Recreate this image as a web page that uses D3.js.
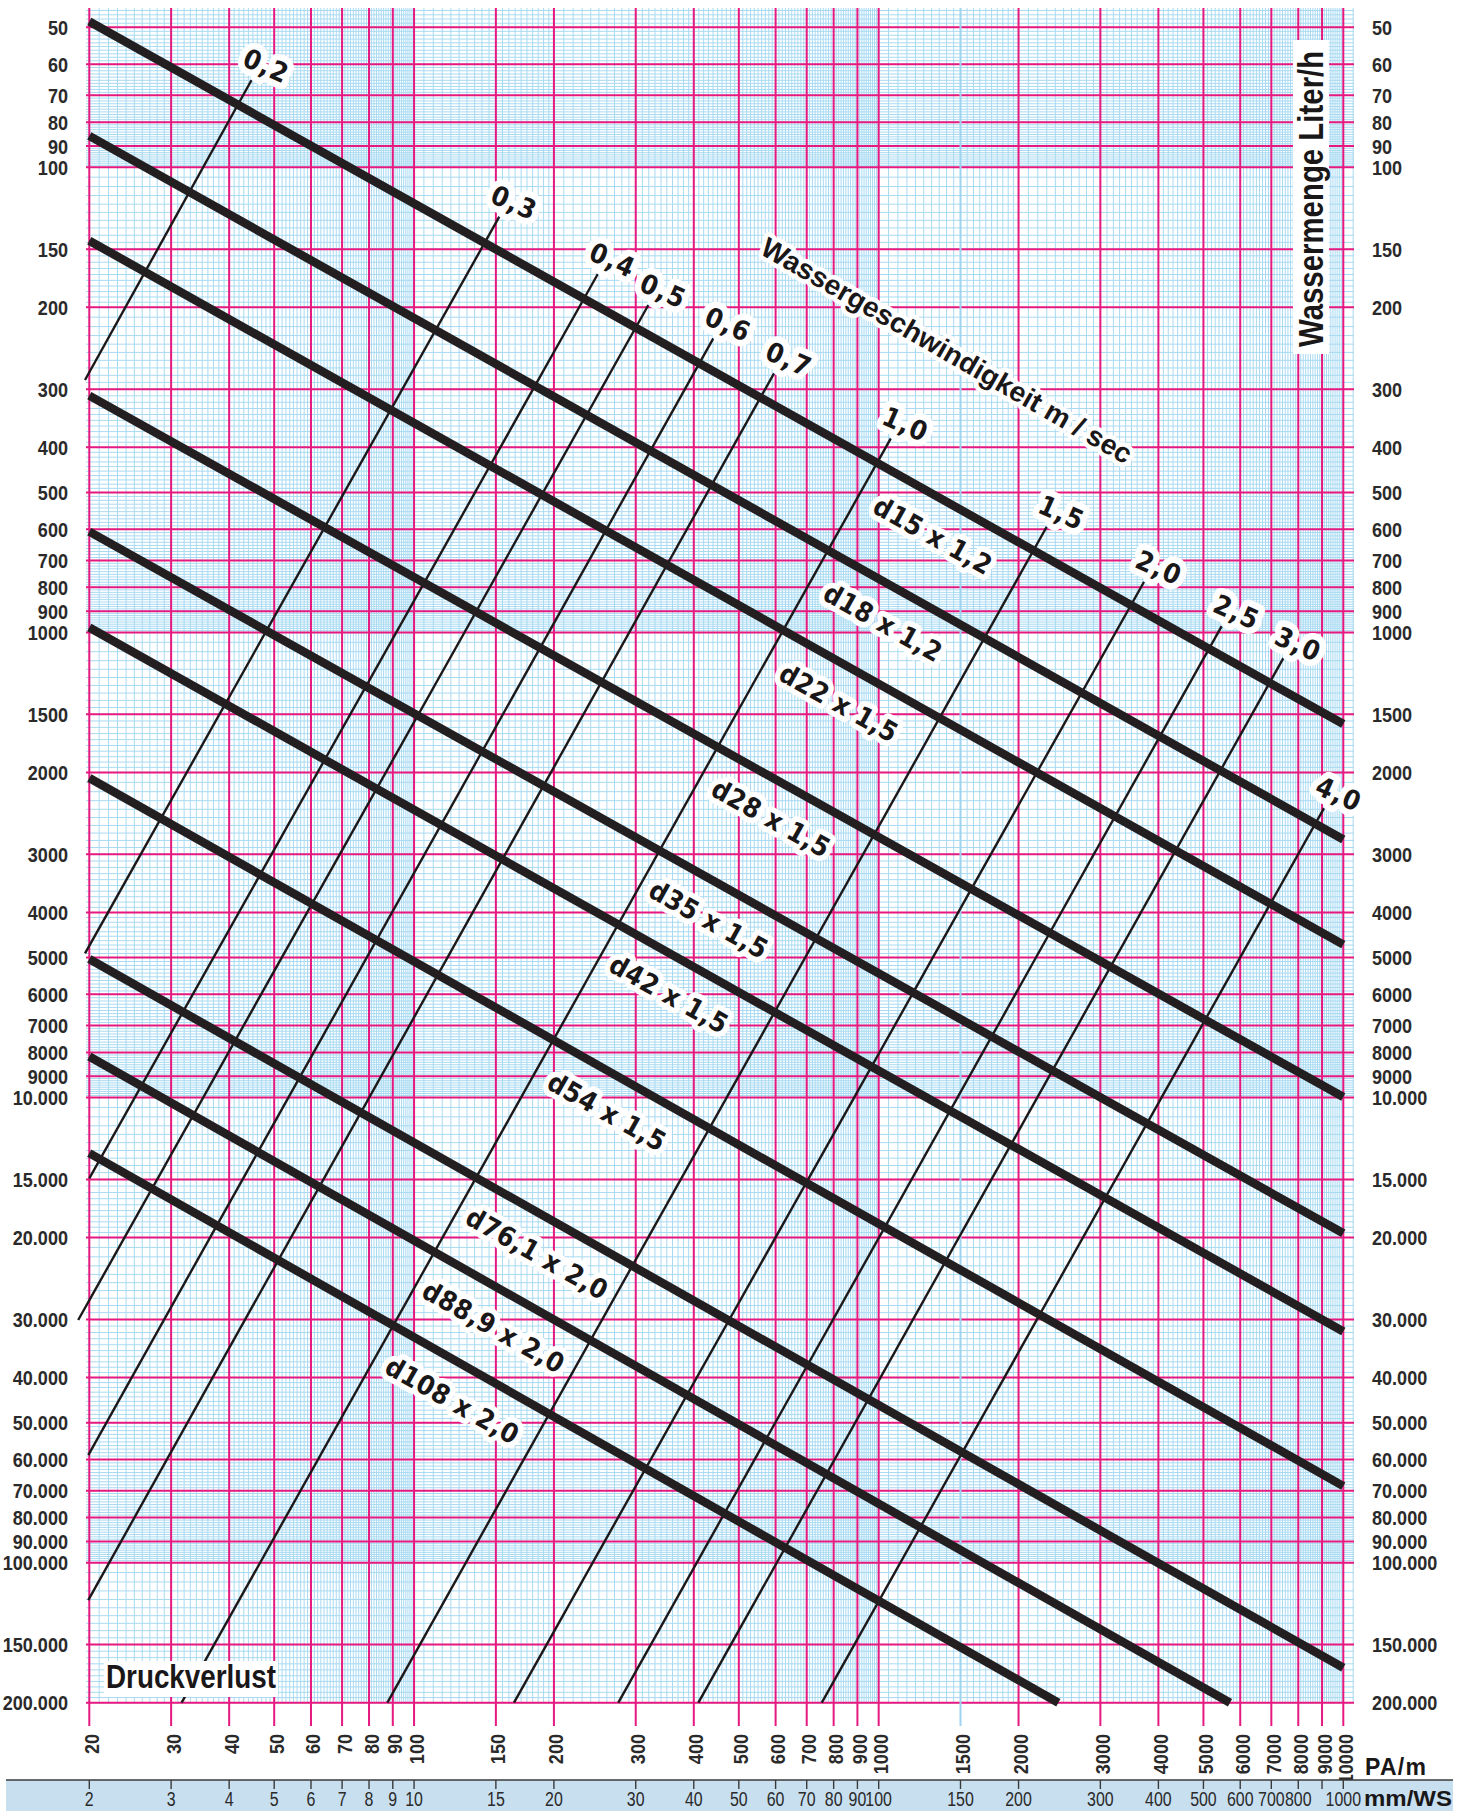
<!DOCTYPE html>
<html>
<head>
<meta charset="utf-8">
<script src="https://cdn.jsdelivr.net/npm/d3@7"></script>
<style>
  body { margin: 0; background: #fff; }
  svg { display: block; }
</style>
</head>
<body>
<svg id="chart" width="1463" height="1811"></svg>
<script>
// ---- Pressure-loss ticks (PA/m), flow ticks (Liter/h), mm/WS ticks ----
const R_TICKS = [20, 30, 40, 50, 60, 70, 80, 90, 100, 150, 200, 300, 400, 500, 600, 700, 800, 900,
                 1000, 1500, 2000, 3000, 4000, 5000, 6000, 7000, 8000, 9000, 10000];
const Q_TICKS = [50, 60, 70, 80, 90, 100, 150, 200, 300, 400, 500, 600, 700, 800, 900, 1000, 1500,
                 2000, 3000, 4000, 5000, 6000, 7000, 8000, 9000, 10000, 15000, 20000, 30000, 40000,
                 50000, 60000, 70000, 80000, 90000, 100000, 150000, 200000];
const MMWS_TICKS = [2, 3, 4, 5, 6, 7, 8, 9, 10, 15, 20, 30, 40, 50, 60, 70, 80, 90, 100, 150, 200,
                    300, 400, 500, 600, 700, 800, 900, 1000];
const MMWS_LABELS = [2, 3, 4, 5, 6, 7, 8, 9, 10, 15, 20, 30, 40, 50, 60, 70, 80, 90, 100, 150, 200,
                     300, 400, 500, 600, 700, 800, 1000];

// ---- Copper pipes: flow at the start / end of each friction line ----
const pipeNames  = ["d15 x 1,2", "d18 x 1,2", "d22 x 1,5", "d28 x 1,5", "d35 x 1,5",
                    "d42 x 1,5", "d54 x 1,5", "d76,1 x 2,0", "d88,9 x 2,0", "d108 x 2,0"];
const pipeStartR = [20, 20, 20, 20, 20, 20, 20, 20, 20, 20];
const pipeStartQ = [48.6, 85.6, 143.8, 309.6, 607, 976, 2056, 5037, 8163, 13163];
const pipeEndR   = [10000, 10000, 10000, 10000, 10000, 10000, 10000, 10000, 5704, 2436];
const pipeEndQ   = [1574, 2787, 4690, 9976, 19580, 31830, 68450, 168200, 200000, 200000];

// ---- Water velocity lines (m/sec): upper and lower end points ----
const velocityNames = ["0,2", "0,3", "0,4", "0,5", "0,6", "0,7", "1,0", "1,5", "2,0", "2,5", "3,0", "4,0"];
const velTopR = [44.7, 152.6, 248.6, 319.4, 440.6, 595.4, 1062, 2300, 3726, 5474, 7430, 9090];
const velTopQ = [64.9, 127.7, 169.6, 197.7, 233.3, 277.3, 382.5, 592.6, 778, 969, 1136, 2386];
const velLowR = [19.58, 19.58, 20, 18.93, 19.9, 19.9, 31.6, 87.6, 164.1, 275.2, 409.2, 754.3];
const velLowQ = [286.6, 4897, 14921, 30080, 58700, 120350, 200000, 200000, 200000, 200000, 200000, 200000];

// ---- layout ----
const MAGENTA = "#e5197f";
const BLUE = "#a8daf2";
const INK = "#231f20";
const GRID = { left: 86, right: 1354, top: 8, bottom: 1702.7, tickBottom: 1726 };
// where along each pipe line its name sits (PA/m)
const pipeLabelR = [1428, 1115, 896, 640, 470, 386, 284, 201, 162, 132];
const PIPE_LABEL_OFFSET = 36;
const LABEL_FONT = "'DejaVu Sans', 'Liberation Sans', sans-serif";
const AXIS_FONT = "'Liberation Sans Narrow', 'Liberation Sans', sans-serif";

const svg = d3.select("#chart");
const x = d3.scaleLog().domain([20, 10000]).range([89.3, 1343.3]);
const y = d3.scaleLog().domain([50, 200000]).range([27.3, 1702.7]);

// subdivisions of log paper: 1-2 by 0.05, 2-10 by 0.1
function fineTicks(lo, hi) {
  const out = [];
  for (let e = Math.floor(Math.log10(lo)); e <= Math.ceil(Math.log10(hi)); e++) {
    const b = Math.pow(10, e);
    let m = 1;
    while (m < 10 - 1e-9) {
      out.push(+(m * b).toPrecision(6));
      m = +(m + (m < 2 - 1e-9 ? 0.05 : 0.1)).toFixed(2);
    }
  }
  return out.filter(v => v >= lo && v <= hi);
}

// ---- fine blue grid ----
const gFine = svg.append("g").attr("stroke", BLUE).attr("stroke-width", 1);
const fineR = fineTicks(15, 12000).filter(v => x(v) >= GRID.left - 0.5 && x(v) <= GRID.right + 0.5);
gFine.selectAll("line.v").data(fineR).join("line").attr("class", "v")
  .attr("x1", d => x(d)).attr("x2", d => x(d))
  .attr("y1", GRID.top).attr("y2", GRID.bottom);
const fineQ = fineTicks(40, 200000).filter(v => y(v) >= GRID.top - 0.5 && y(v) <= GRID.bottom + 0.5);
gFine.selectAll("line.h").data(fineQ).join("line").attr("class", "h")
  .attr("y1", d => y(d)).attr("y2", d => y(d))
  .attr("x1", GRID.left).attr("x2", GRID.right);

// ---- major magenta grid ----
const gMaj = svg.append("g").attr("stroke-width", 2);
gMaj.selectAll("line.h").data(Q_TICKS).join("line").attr("class", "h")
  .attr("stroke", MAGENTA)
  .attr("y1", d => y(d)).attr("y2", d => y(d))
  .attr("x1", GRID.left).attr("x2", GRID.right);
gMaj.selectAll("line.v").data(R_TICKS).join("line").attr("class", "v")
  .attr("stroke", d => d === 1500 ? "#9dd3ef" : MAGENTA)
  .attr("x1", d => x(d)).attr("x2", d => x(d))
  .attr("y1", GRID.top).attr("y2", GRID.tickBottom);

const line = d3.line().x(d => x(d[0])).y(d => y(d[1]));

// ---- velocity lines ----
const velocities = velocityNames.map((name, i) => ({
  name, top: [velTopR[i], velTopQ[i]], low: [velLowR[i], velLowQ[i]]
}));
svg.append("g").selectAll("path").data(velocities).join("path")
  .attr("d", d => line([d.low, d.top]))
  .attr("fill", "none").attr("stroke", "#1c1819").attr("stroke-width", 2.4);

// ---- pipe friction lines ----
const pipes = pipeNames.map((name, i) => ({
  name, start: [pipeStartR[i], pipeStartQ[i]], end: [pipeEndR[i], pipeEndQ[i]], labelR: pipeLabelR[i]
}));
svg.append("g").selectAll("path").data(pipes).join("path")
  .attr("d", d => line([d.start, d.end]))
  .attr("fill", "none").attr("stroke", INK).attr("stroke-width", 8.5).attr("stroke-linecap", "butt");

// ---- labels with white knock-out ----
function haloText(g, txt, opts) {
  const t = g.append("text").text(txt)
    .attr("text-anchor", opts.anchor || "middle")
    .attr("dominant-baseline", opts.baseline || "central")
    .attr("font-family", opts.family || LABEL_FONT)
    .attr("font-stretch", opts.stretch || "condensed")
    .attr("font-weight", "bold")
    .attr("font-size", opts.size)
    .attr("letter-spacing", opts.spacing || 0)
    .attr("fill", "#1a1718")
    .attr("stroke", "#fff").attr("stroke-width", opts.halo || 10)
    .attr("stroke-linejoin", "round").attr("paint-order", "stroke");
  if (opts.length) t.attr("textLength", opts.length).attr("lengthAdjust", "spacingAndGlyphs");
  return t;
}

const gLab = svg.append("g");
// pipe names, parallel to and just below each line
pipes.forEach(p => {
  const x0 = x(p.start[0]), y0 = y(p.start[1]), x1 = x(p.end[0]), y1 = y(p.end[1]);
  const ang = Math.atan2(y1 - y0, x1 - x0);
  const t = (Math.log(p.labelR) - Math.log(p.start[0])) / (Math.log(p.end[0]) - Math.log(p.start[0]));
  const px = x0 + (x1 - x0) * t - Math.sin(ang) * PIPE_LABEL_OFFSET;
  const py = y0 + (y1 - y0) * t + Math.cos(ang) * PIPE_LABEL_OFFSET;
  const g = gLab.append("g").attr("transform", `translate(${px},${py}) rotate(${ang * 180 / Math.PI})`);
  haloText(g, p.name, { size: 27, spacing: 0.5, halo: 11 });
});

// velocity values at the upper end of each velocity line
velocities.forEach(v => {
  const px = x(v.top[0]) + 15, py = y(v.top[1]) - 14;
  const g = gLab.append("g").attr("transform", `translate(${px},${py}) rotate(24)`);
  haloText(g, v.name, { size: 27, spacing: 1.5, halo: 13 });
});

// velocity caption
{
  const g = gLab.append("g").attr("transform", "translate(946.7,350.7) rotate(30)");
  haloText(g, "Wassergeschwindigkeit m / sec",
    { size: 28, length: 423, halo: 9, family: "'Liberation Sans', Arial, sans-serif", stretch: "normal" });
}

// flow caption (vertical, right)
svg.append("rect").attr("x", 1293).attr("y", 40).attr("width", 36).attr("height", 314).attr("fill", "#fff");
svg.append("text").text("Wassermenge Liter/h")
  .attr("transform", "translate(1323,347) rotate(-90) scale(0.84,1)")
  .attr("text-anchor", "start")
  .attr("font-family", AXIS_FONT)
  .attr("font-weight", "bold").attr("font-size", 35)
  .attr("fill", "#1a1718");

// pressure caption (bottom left)
svg.append("rect").attr("x", 104).attr("y", 1661).attr("width", 174).attr("height", 36).attr("fill", "#fff");
svg.append("text").text("Druckverlust")
  .attr("x", 106).attr("y", 1688)
  .attr("font-family", AXIS_FONT)
  .attr("font-weight", "bold").attr("font-size", 33)
  .attr("textLength", 170).attr("lengthAdjust", "spacingAndGlyphs")
  .attr("fill", "#1a1718");

// ---- axis labels ----
const de = d3.formatLocale({ decimal: ",", thousands: ".", grouping: [3], currency: ["", "€"] }).format(",");
const fmtQ = v => v >= 10000 ? de(v) : String(v);

svg.append("g").selectAll("text").data(Q_TICKS).join("text")
  .attr("transform", d => `translate(68,${y(d)}) scale(0.86,1)`)
  .attr("dy", "0.36em")
  .attr("text-anchor", "end")
  .attr("font-family", AXIS_FONT).attr("font-weight", "bold").attr("font-size", 21)
  .attr("fill", "#2b2a2a").text(fmtQ);

svg.append("g").selectAll("text").data(Q_TICKS).join("text")
  .attr("transform", d => `translate(1372,${y(d)}) scale(0.86,1)`)
  .attr("dy", "0.36em")
  .attr("text-anchor", "start")
  .attr("font-family", AXIS_FONT).attr("font-weight", "bold").attr("font-size", 21)
  .attr("fill", "#2b2a2a").text(fmtQ);

// PA/m, rotated
svg.append("g").selectAll("text").data(R_TICKS).join("text")
  .attr("transform", d => `translate(${x(d) + 9.5},1734) rotate(-90) scale(0.86,1)`)
  .attr("text-anchor", "end")
  .attr("font-family", AXIS_FONT).attr("font-weight", "bold").attr("font-size", 21)
  .attr("fill", "#2b2a2a").text(d => String(d));

svg.append("text").text("PA/m")
  .attr("x", 1365).attr("y", 1775)
  .attr("font-family", "'Liberation Sans', Arial, sans-serif")
  .attr("font-weight", "bold").attr("font-size", 23)
  .attr("textLength", 61).attr("lengthAdjust", "spacing")
  .attr("fill", "#1a1718");

// ---- mm/WS band ----
svg.append("rect").attr("x", 6).attr("y", 1780).attr("width", 1447).attr("height", 31).attr("fill", "#c8dff0");
svg.append("line").attr("x1", 6).attr("x2", 1453).attr("y1", 1780).attr("y2", 1780)
  .attr("stroke", "#3a3a3a").attr("stroke-width", 1.6);
svg.append("g").selectAll("line").data(MMWS_TICKS).join("line")
  .attr("x1", d => x(d * 10)).attr("x2", d => x(d * 10))
  .attr("y1", 1780).attr("y2", 1789)
  .attr("stroke", "#3a3a3a").attr("stroke-width", 1.4);
svg.append("g").selectAll("text").data(MMWS_LABELS).join("text")
  .attr("transform", d => `translate(${x(d * 10)},1806) scale(0.76,1)`)
  .attr("text-anchor", "middle")
  .attr("font-family", AXIS_FONT).attr("font-size", 21).attr("font-weight", "normal")
  .attr("fill", "#2b2a2a").text(d => String(d));
svg.append("text").text("mm/WS")
  .attr("x", 1364).attr("y", 1806)
  .attr("font-family", "'Liberation Sans', Arial, sans-serif")
  .attr("font-weight", "bold").attr("font-size", 22)
  .attr("textLength", 88).attr("lengthAdjust", "spacingAndGlyphs")
  .attr("fill", "#1a1718");
</script>
</body>
</html>
